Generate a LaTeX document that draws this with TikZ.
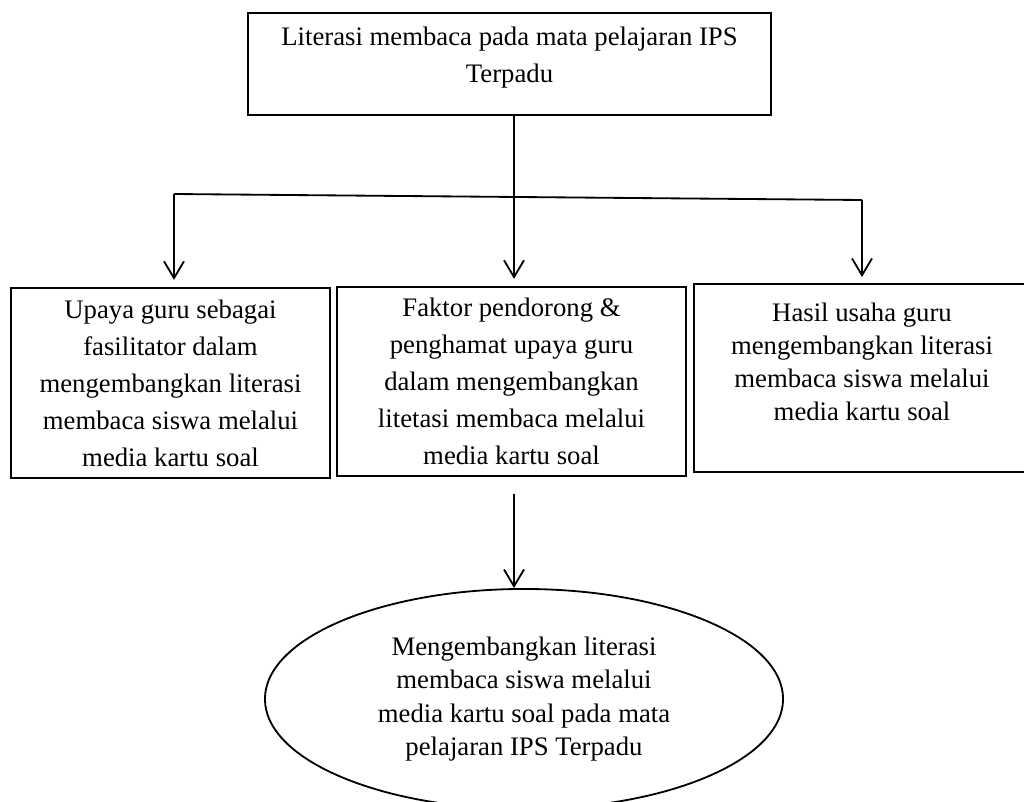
\documentclass[tikz,border=0pt]{standalone}
\usepackage{fontspec}
\setmainfont{Liberation Serif}
\usetikzlibrary{arrows.meta,shapes.geometric}
\begin{document}
\begin{tikzpicture}[x=0.025cm,y=-0.025cm,
  box/.style={draw,line width=1.3pt,rectangle,inner sep=0pt,align=center,
    font=\fontsize{19}{26.3}\selectfont},
  oval/.style={draw,line width=1.3pt,ellipse,inner sep=0pt,align=center,
    font=\fontsize{19}{23.8}\selectfont},
  link/.style={line width=1.3pt},
  arr/.style={line width=1.3pt,-{Straight Barb[length=0.42cm,width=0.5cm]}}]
\clip (0,0) rectangle (1024,801);
\fill[white] (0,0) rectangle (1024,801);

\node[box,minimum width=13.075cm,minimum height=2.55cm,text depth=13pt] (top) at (509.5,64)
  {Literasi membaca pada mata pelajaran IPS\\Terpadu};

\node[box,minimum width=7.975cm,minimum height=4.75cm] (left) at (170.5,383)
  {Upaya guru sebagai\\fasilitator dalam\\mengembangkan literasi\\membaca siswa melalui\\media kartu soal};

\node[box,minimum width=8.725cm,minimum height=4.725cm] (mid) at (511.5,381.5)
  {Faktor pendorong \&\\penghamat upaya guru\\dalam mengembangkan\\litetasi membaca melalui\\media kartu soal};

\node[box,minimum width=8.4cm,minimum height=4.7cm,text depth=23.5pt,
  font=\fontsize{19}{23.5}\selectfont] (right) at (862,378)
  {Hasil usaha guru\\mengembangkan literasi\\membaca siswa melalui\\media kartu soal};

\node[oval,minimum width=12.95cm,minimum height=5.5cm] (ell) at (524,699)
  {Mengembangkan literasi\\membaca siswa melalui\\media kartu soal pada mata\\pelajaran IPS Terpadu};

\coordinate (hl) at (174,194);
\coordinate (hr) at (862,200);
\coordinate (jm) at (514,0);

\draw[link] (hl) -- (hr);
\draw[arr,shorten >=0.18cm] (top.south -| jm) -- (mid.north -| jm);
\draw[arr,shorten >=0.18cm] (hl) -- (hl |- left.north);
\draw[arr,shorten >=0.15cm] (hr) -- (hr |- right.north);
\draw[arr,shorten <=0.425cm] (mid.south -| jm) -- (ell.north -| jm);
\end{tikzpicture}
\end{document}
